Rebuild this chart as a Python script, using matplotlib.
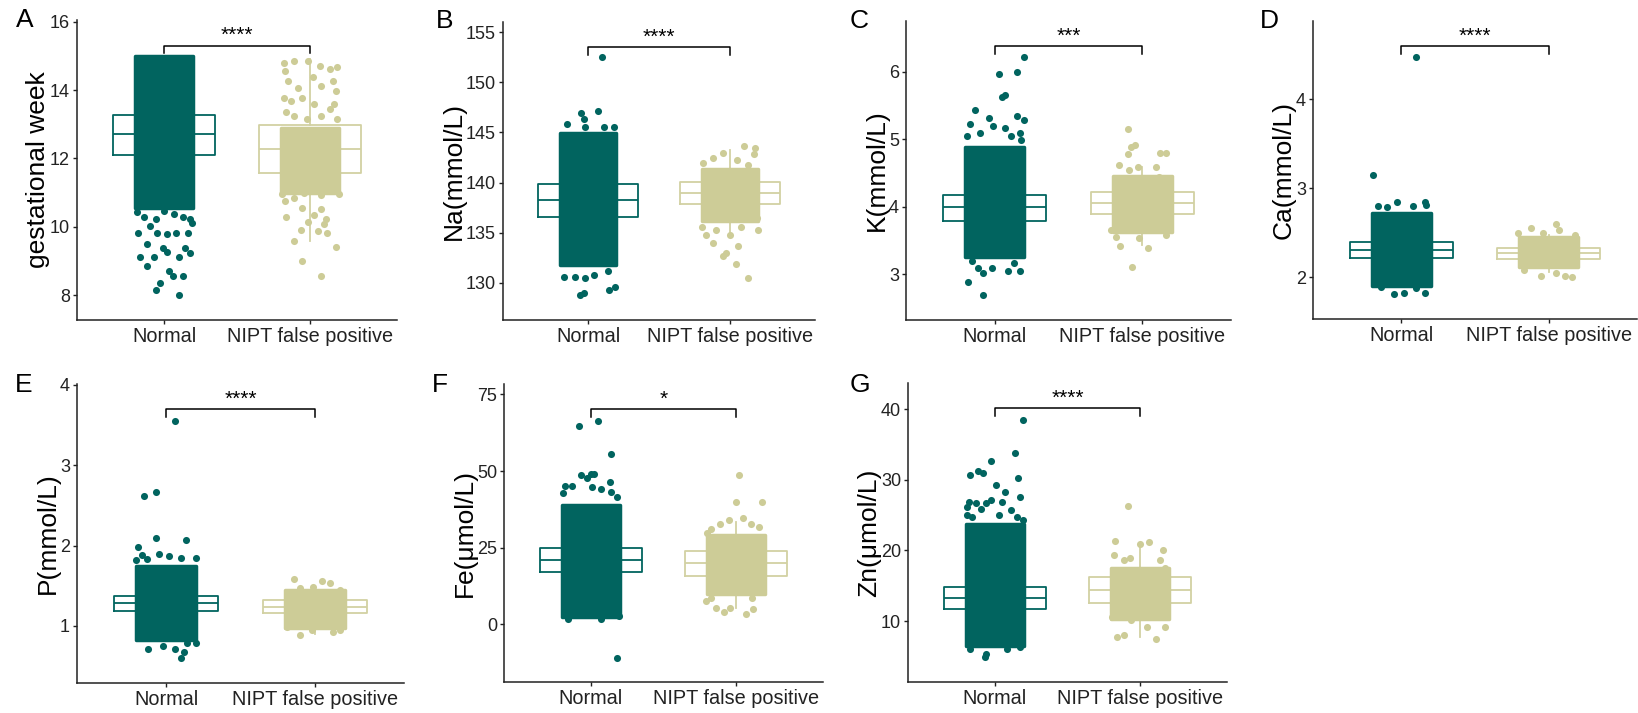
import matplotlib
matplotlib.use('Agg')
import matplotlib.pyplot as plt

plt.rcParams['font.family'] = ['Liberation Sans', 'DejaVu Sans']

# ---- data ----
# box = [whisker low, q1, median, q3, whisker high]; cloud = [low, high] of the saturated point mass
groups = ['Normal', 'NIPT false positive']

a_norm_box = [10.40, 12.10, 12.71, 13.28, 15.00]
a_norm_cloud = [10.56, 15.00]
a_norm_y = [10.42, 10.27, 10.22, 10.46, 10.37, 10.27, 10.22, 9.83, 10.03, 9.83, 9.78, 9.83, 9.83, 10.10,
            9.49, 9.39, 9.27, 9.39, 9.22, 9.10, 9.12, 8.86, 8.71, 8.55, 8.55, 8.36, 8.14, 7.99, 9.12]
a_norm_dx = [-0.19, -0.14, -0.06, 0.00, 0.07, 0.13, 0.18, -0.18, -0.10, -0.05, 0.02, 0.08, 0.16, 0.19,
             -0.12, -0.01, 0.02, 0.14, 0.18, -0.17, -0.07, -0.12, 0.03, 0.06, 0.13, -0.03, -0.06, 0.10, 0.10]
a_fp_box = [9.59, 11.56, 12.27, 12.98, 14.91]
a_fp_cloud = [11.0, 12.9]
a_fp_y = [14.78, 14.84, 14.86, 14.71, 14.61, 14.68, 14.57, 14.27, 14.06, 14.39, 14.13, 14.27, 13.96,
          13.78, 13.67, 13.78, 13.59, 13.44, 13.59, 13.37, 13.25, 13.15, 13.25, 13.14,
          10.95, 10.84, 11.00, 11.15, 10.93, 10.97, 10.76, 10.54, 10.35, 10.51, 10.22,
          10.29, 10.15, 9.90, 9.57, 9.88, 9.83, 10.09, 9.41, 9.00, 8.55]
a_fp_dx = [-0.18, -0.11, -0.01, 0.07, 0.14, 0.19, -0.17, -0.15, -0.08, 0.02, 0.08, 0.16, 0.18,
           -0.18, -0.13, -0.05, 0.03, 0.14, 0.17, -0.16, -0.11, -0.02, 0.08, 0.19,
           -0.19, -0.11, -0.04, 0.03, 0.08, 0.20, -0.17, -0.05, 0.03, 0.08, 0.11,
           -0.16, -0.01, -0.06, -0.11, 0.06, 0.12, 0.10, 0.18, -0.05, 0.08]

b_norm_box = [131.9, 136.6, 138.27, 139.86, 144.9]
b_norm_cloud = [131.8, 144.9]
b_norm_y = [152.48, 146.97, 147.16, 146.33, 145.84, 145.5, 145.5, 145.5, 130.63, 130.63, 130.47, 130.8,
            131.23, 128.8, 129.04, 129.3, 129.54]
b_norm_dx = [0.10, -0.05, 0.07, -0.03, -0.15, -0.02, 0.11, 0.18, -0.17, -0.09, -0.02, 0.04,
             0.14, -0.06, -0.03, 0.15, 0.19]
b_fp_box = [134.78, 137.87, 139.0, 140.09, 143.25]
b_fp_cloud = [136.2, 141.3]
b_fp_y = [142.98, 143.64, 142.85, 143.4, 141.92, 142.42, 142.25, 141.75, 134.78, 134.02, 132.96, 132.7,
          133.69, 131.89, 130.53, 136.44, 135.28, 135.6, 135.28, 135.6, 134.78]
b_fp_dx = [-0.05, 0.10, 0.17, 0.18, -0.19, -0.12, 0.05, 0.13, -0.17, -0.12, -0.03, -0.05,
           0.06, 0.04, 0.13, 0.19, 0.20, -0.20, -0.10, 0.08, 0.00]

c_norm_box = [3.26, 3.79, 4.00, 4.17, 4.89]
c_norm_cloud = [3.26, 4.89]
c_norm_y = [6.21, 5.97, 6.00, 5.62, 5.65, 5.43, 5.31, 5.34, 5.29, 5.23, 5.19, 5.16, 5.09, 5.04, 5.09,
            5.04, 4.99, 2.89, 2.69, 3.01, 3.09, 3.09, 3.05, 3.04, 3.19, 3.16]
c_norm_dx = [0.20, 0.03, 0.15, 0.05, 0.07, -0.13, -0.04, 0.15, 0.20, -0.17, -0.01, 0.07, 0.17, -0.19, -0.10,
             0.11, 0.18, -0.18, -0.08, -0.08, -0.02, -0.11, 0.09, 0.17, -0.15, 0.13]
c_fp_box = [3.43, 3.89, 4.05, 4.21, 4.59]
c_fp_cloud = [3.62, 4.45]
c_fp_y = [5.15, 4.89, 4.91, 4.78, 4.80, 4.79, 4.61, 4.54, 4.59, 4.59, 4.44, 3.65, 3.55, 3.42, 3.53,
          3.38, 3.58, 3.11, 3.70]
c_fp_dx = [-0.10, -0.08, -0.05, -0.10, 0.12, 0.16, -0.16, -0.09, -0.03, 0.09, 0.11, -0.21, -0.18, -0.15, -0.02,
           0.04, 0.16, -0.07, 0.08]

d_norm_box = [1.90, 2.22, 2.31, 2.40, 2.72]
d_norm_cloud = [1.90, 2.72]
d_norm_y = [4.47, 3.15, 2.80, 2.79, 2.84, 2.80, 2.85, 2.81, 1.81, 1.82, 1.82, 1.89, 1.88]
d_norm_dx = [0.10, -0.19, -0.16, -0.10, -0.03, 0.08, 0.16, 0.17, -0.05, 0.02, 0.16, -0.14, 0.10]
d_fp_box = [2.06, 2.21, 2.27, 2.33, 2.47]
d_fp_cloud = [2.12, 2.45]
d_fp_y = [2.60, 2.55, 2.50, 2.50, 2.53, 2.47, 2.01, 2.01, 2.00, 2.05, 2.08]
d_fp_dx = [0.05, -0.12, -0.21, -0.04, 0.07, 0.18, -0.05, 0.11, 0.16, 0.05, -0.17]

e_norm_box = [0.83, 1.18, 1.28, 1.37, 1.74]
e_norm_cloud = [0.83, 1.74]
e_norm_y = [3.55, 2.62, 2.67, 2.10, 2.07, 1.98, 1.82, 1.83, 1.90, 1.87, 1.85, 1.85, 1.88,
            0.71, 0.60, 0.68, 0.75, 0.71, 0.79, 0.79]
e_norm_dx = [0.06, -0.15, -0.07, -0.07, 0.13, -0.19, -0.20, -0.13, -0.05, 0.02, 0.10, 0.20, -0.16,
             -0.12, 0.10, 0.12, -0.02, 0.06, 0.20, 0.14]
e_fp_box = [0.90, 1.16, 1.23, 1.32, 1.50]
e_fp_cloud = [0.98, 1.45]
e_fp_y = [1.58, 1.56, 1.54, 1.47, 1.49, 1.45, 0.89, 0.95, 0.93, 0.95, 0.99]
e_fp_dx = [-0.14, 0.05, 0.10, -0.10, -0.01, 0.17, -0.10, -0.02, 0.12, 0.17, -0.19]

f_norm_box = [2.5, 17.17, 20.98, 24.78, 38.4]
f_norm_cloud = [2.5, 39.0]
f_norm_y = [64.8, 66.4, 55.5, 48.7, 49.0, 47.6, 49.0, 45.1, 45.1, 44.9, 44.3, 46.5, 43.3, 42.7, 41.6,
            -10.9, 1.6, 1.6, 2.7]
f_norm_dx = [-0.08, 0.05, 0.14, -0.07, 0.00, -0.03, 0.02, -0.18, -0.13, 0.01, 0.07, 0.13, 0.14, -0.19, 0.18,
             0.18, -0.16, 0.07, 0.19]
f_fp_box = [5.2, 15.9, 19.9, 23.9, 33.5]
f_fp_cloud = [10.0, 29.0]
f_fp_y = [48.7, 40.0, 40.0, 32.7, 34.0, 34.6, 32.7, 31.8, 31.0, 29.7, 7.7, 5.2, 4.1, 5.2, 3.4, 4.9, 8.5, 8.5]
f_fp_dx = [0.02, 0.00, 0.18, -0.11, -0.05, 0.05, 0.10, 0.16, -0.17, -0.20, -0.21, -0.14, -0.08, -0.04,
           0.07, 0.12, 0.11, -0.17]

g_norm_box = [6.4, 11.65, 13.2, 14.76, 23.8]
g_norm_cloud = [6.4, 23.8]
g_norm_y = [38.5, 33.8, 32.6, 30.7, 31.3, 30.9, 30.3, 29.2, 28.3, 27.2, 26.9, 27.6, 26.9, 26.7, 25.0,
            26.2, 25.9, 26.7, 24.8, 25.0, 25.7, 24.8, 24.3, 5.4, 4.95, 6.0, 6.1, 6.3]
g_norm_dx = [0.19, 0.14, -0.03, -0.17, -0.12, -0.08, 0.16, 0.01, 0.07, -0.03, 0.05, 0.17, -0.18, -0.13, -0.19,
             -0.19, -0.10, -0.06, -0.16, 0.03, 0.11, 0.15, 0.19, -0.06, -0.07, -0.17, 0.08, 0.17]
g_fp_box = [7.78, 12.5, 14.4, 16.2, 20.85]
g_fp_cloud = [10.3, 17.5]
g_fp_y = [26.3, 21.4, 20.9, 21.2, 20.0, 19.3, 18.7, 18.9, 18.7, 17.5, 7.8, 8.0, 7.5, 9.2, 9.2, 10.6, 10.1]
g_fp_dx = [-0.08, -0.17, 0.00, 0.06, 0.16, -0.18, -0.11, -0.07, 0.14, 0.17, -0.16, -0.11, 0.11, 0.17,
           0.05, -0.19, -0.06]

letters = ['A', 'B', 'C', 'D', 'E', 'F', 'G']
ylabels = ['gestational week', 'Na(mmol/L)', 'K(mmol/L)', 'Ca(mmol/L)', 'P(mmol/L)', 'Fe(μmol/L)', 'Zn(μmol/L)']
stars = ['****', '****', '***', '****', '****', '*', '****']
yticks = [[8, 10, 12, 14, 16], [130, 135, 140, 145, 150, 155], [3, 4, 5, 6], [2, 3, 4],
          [1, 2, 3, 4], [0, 25, 50, 75], [10, 20, 30, 40]]

# ---- layout (pixels of the 1638x713 figure) ----
W, H = 1638, 713
panel_px = [(77, 397, 20, 320), (503, 815, 22, 320), (906, 1231, 21, 320), (1313, 1637, 21, 319),
            (77, 404, 384, 683), (504, 823, 384, 682), (908, 1227, 383, 682)]
letter_px = [(25, 20), (445, 21), (859, 21), (1269, 21), (24, 385), (440, 385), (860, 385)]
ylims = [(7.27, 16.05), (126.3, 156.0), (2.32, 6.75), (1.53, 4.88), (0.29, 4.01), (-18.8, 78.4), (1.37, 43.7)]

C_NORM = '#01645f'
C_FP = '#cdcc97'
C_FP_BOX = '#d2d1a3'


def draw_group(ax, x, box, cloud, ys, dxs, color, boxcolor):
    st = dict(whislo=box[0], q1=box[1], med=box[2], q3=box[3], whishi=box[4], fliers=[])
    lp = dict(color=boxcolor, linewidth=1.3)
    ax.bxp([st], positions=[x], widths=0.7, showfliers=False, showcaps=False,
           boxprops=lp, medianprops=lp, whiskerprops=lp, zorder=1)
    # saturated core of the jittered points, drawn as one area with rounded corners
    core = ax.bar(x, cloud[1] - cloud[0], bottom=cloud[0], width=0.40, color=color,
                  edgecolor=color, linewidth=2.5, zorder=2)
    for p in core:
        p.set_joinstyle('round')
    ax.scatter([x + d for d in dxs], ys, s=26, color=color, linewidths=0, zorder=3)


data = [
    (a_norm_box, a_norm_cloud, a_norm_y, a_norm_dx, a_fp_box, a_fp_cloud, a_fp_y, a_fp_dx),
    (b_norm_box, b_norm_cloud, b_norm_y, b_norm_dx, b_fp_box, b_fp_cloud, b_fp_y, b_fp_dx),
    (c_norm_box, c_norm_cloud, c_norm_y, c_norm_dx, c_fp_box, c_fp_cloud, c_fp_y, c_fp_dx),
    (d_norm_box, d_norm_cloud, d_norm_y, d_norm_dx, d_fp_box, d_fp_cloud, d_fp_y, d_fp_dx),
    (e_norm_box, e_norm_cloud, e_norm_y, e_norm_dx, e_fp_box, e_fp_cloud, e_fp_y, e_fp_dx),
    (f_norm_box, f_norm_cloud, f_norm_y, f_norm_dx, f_fp_box, f_fp_cloud, f_fp_y, f_fp_dx),
    (g_norm_box, g_norm_cloud, g_norm_y, g_norm_dx, g_fp_box, g_fp_cloud, g_fp_y, g_fp_dx),
]

fig = plt.figure(figsize=(W / 100, H / 100), dpi=100)

for i, (nb, nc, ny, ndx, fb, fc, fy, fdx) in enumerate(data):
    l, r, t, b = panel_px[i]
    ax = fig.add_axes([l / W, 1 - b / H, (r - l) / W, (b - t) / H])
    draw_group(ax, 1, nb, nc, ny, ndx, C_NORM, C_NORM)
    draw_group(ax, 2, fb, fc, fy, fdx, C_FP, C_FP_BOX)

    ax.set_xlim(0.4, 2.6)
    ax.set_ylim(*ylims[i])
    ax.set_xticks([1, 2])
    ax.set_xticklabels(groups, fontsize=14.3, color='#222222')
    ax.set_yticks(yticks[i])
    ax.set_yticklabels([str(v) for v in yticks[i]], fontsize=13, color='#222222')
    ax.tick_params(length=3, width=1, color='#222222', pad=2)
    for s in ['top', 'right']:
        ax.spines[s].set_visible(False)
    for s in ['left', 'bottom']:
        ax.spines[s].set_linewidth(1.1)
        ax.spines[s].set_color('#222222')
    ax.set_ylabel(ylabels[i], fontsize=19, labelpad=0)

    # significance bracket
    tr = ax.get_xaxis_transform()
    ax.plot([1, 1, 2, 2], [0.89, 0.915, 0.915, 0.89], color='black', lw=1.1,
            transform=tr, clip_on=False)
    ax.text(1.5, 0.93, stars[i], transform=tr, ha='center', va='baseline', fontsize=15)

    lx, ly = letter_px[i]
    fig.text(lx / W, 1 - ly / H, letters[i], fontsize=19, ha='center', va='center')

fig.savefig('out.png', dpi=100)
